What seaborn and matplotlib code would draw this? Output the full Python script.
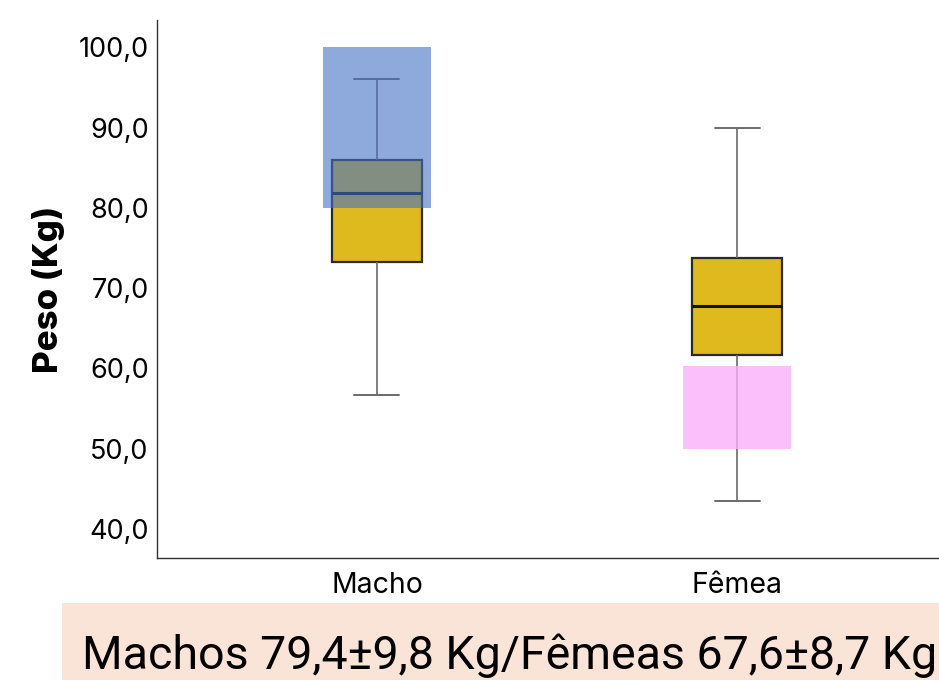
import matplotlib
matplotlib.use("Agg")
import matplotlib.pyplot as plt
from matplotlib.patches import Rectangle
import seaborn as sns
import pandas as pd

# five-number summaries (min, Q1, median, Q3, max)
sexo = ["Macho", "Fêmea"]
peso_macho = [56.7, 73.3, 81.8, 86.0, 96.0]
peso_femea = [43.5, 61.7, 67.8, 73.8, 90.0]

# highlighted ranges drawn on top of the boxes
faixa_cat = ["Macho", "Fêmea"]
faixa_min = [80.0, 50.0]
faixa_max = [100.0, 60.3]
faixa_cor = ["#4371C3", "#FAB0FA"]
faixa_alpha = [0.6, 0.8]

yticks = [40, 50, 60, 70, 80, 90, 100]
resumo = "Machos 79,4±9,8 Kg/Fêmeas 67,6±8,7 Kg"

df = pd.DataFrame({
    "sexo": [sexo[0]] * len(peso_macho) + [sexo[1]] * len(peso_femea),
    "peso": peso_macho + peso_femea,
})

sns.set_style("white")
plt.rcParams["font.family"] = ["Inter", "DejaVu Sans"]
plt.rcParams["text.color"] = "black"
plt.rcParams["axes.labelcolor"] = "black"
plt.rcParams["xtick.color"] = "black"
plt.rcParams["ytick.color"] = "black"

fig = plt.figure(figsize=(9.39, 6.8), dpi=100)
ax = fig.add_axes([0.1672, 0.1794, 0.8328, 0.7912])

sns.boxplot(data=df, x="sexo", y="peso", order=sexo, color="#DFBA1F",
            saturation=1, width=0.25, whis=(0, 100), ax=ax,
            boxprops=dict(edgecolor="#2a2a2a", linewidth=1.6),
            whiskerprops=dict(color="#6a6a6a", linewidth=1.2),
            capprops=dict(color="#6a6a6a", linewidth=1.4),
            medianprops=dict(color="#111111", linewidth=2.2))

# overlay bands
pos = {c: i for i, c in enumerate(sexo)}
for c, lo, hi, col, a in zip(faixa_cat, faixa_min, faixa_max, faixa_cor, faixa_alpha):
    ax.bar(pos[c], hi - lo, bottom=lo, width=0.30, color=col, alpha=a,
           linewidth=0, zorder=5)

ax.set_xlim(-0.611, 1.561)
ax.set_ylim(36.4, 103.4)
ax.set_yticks(yticks)
ax.set_yticklabels([f"{v:.1f}".replace(".", ",") for v in yticks], fontsize=19.5)
ax.tick_params(axis="x", labelsize=20.5, length=0, pad=10)
ax.tick_params(axis="y", length=0, pad=6)
ax.set_xlabel("")
ax.set_ylabel("Peso (Kg)", fontsize=25, fontweight="heavy", labelpad=10)
sns.despine(ax=ax)
for s in ["left", "bottom"]:
    ax.spines[s].set_color("#333333")
    ax.spines[s].set_linewidth(1.0)

# summary banner at the bottom
fig.patches.append(Rectangle((0.066, 0.0), 0.934, 0.113, transform=fig.transFigure,
                             facecolor="#FAE3D7", edgecolor="none", zorder=0))
fig.text(0.543, 0.036, resumo, ha="center", va="center", fontsize=33.5,
         family=["Liberation Sans Narrow", "Roboto", "DejaVu Sans"])

fig.savefig("out.png", dpi=100)
